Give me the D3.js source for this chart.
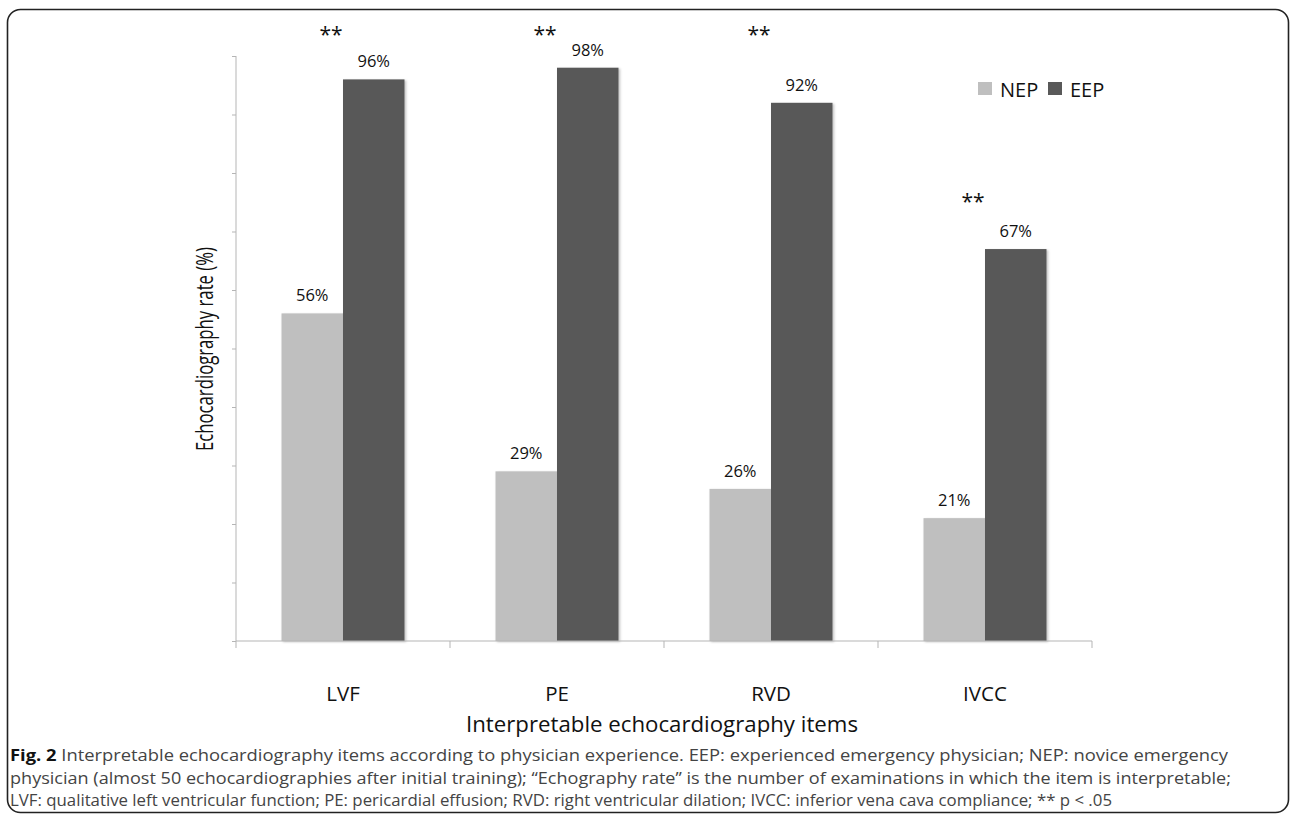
<!DOCTYPE html>
<html><head><meta charset="utf-8">
<script src="https://cdn.jsdelivr.net/npm/d3@7"></script>
<style>body{margin:0;background:#fff}svg{display:block}text{font-family:"Open Sans",sans-serif}</style>
</head><body>
<svg id="c" width="1292" height="815"></svg>
<script>
const categories = ["LVF", "PE", "RVD", "IVCC"];
const seriesNames = ["NEP", "EEP"];
const nepValues = [56, 29, 26, 21];
const eepValues = [96, 98, 92, 67];
const valueLabels = [["56%", "96%"], ["29%", "98%"], ["26%", "92%"], ["21%", "67%"]];
const starLevels = [104, 104, 104, 75.4];
const yTicks = [0, 10, 20, 30, 40, 50, 60, 70, 80, 90, 100];
const colors = ["#bfbfbf", "#595959"];
const captionLines = [
  ["Fig. 2", " Interpretable echocardiography items according to physician experience. EEP: experienced emergency physician; NEP: novice emergency"],
  ["", "physician (almost 50 echocardiographies after initial training); \u201cEchography rate\u201d is the number of examinations in which the item is interpretable;"],
  ["", "LVF: qualitative left ventricular function; PE: pericardial effusion; RVD: right ventricular dilation; IVCC: inferior vena cava compliance; ** p < .05"]
];

const svg = d3.select("#c");
const defs = svg.append("defs");
const f = defs.append("filter").attr("id","sh").attr("x","-10%").attr("y","-10%").attr("width","130%").attr("height","130%");
f.append("feDropShadow").attr("dx",1.5).attr("dy",1).attr("stdDeviation",1).attr("flood-color","#000").attr("flood-opacity",0.25);

svg.append("rect").attr("x",7.5).attr("y",9.5).attr("width",1281).attr("height",803)
  .attr("rx",13).attr("fill","none").attr("stroke","#222").attr("stroke-width",1.6);

const x0 = d3.scaleBand().domain(categories).range([236, 1092]).padding(0);
const x1 = d3.scaleBand().domain(seriesNames).range([0, x0.bandwidth()]).paddingInner(0).paddingOuter(0.74);
const y = d3.scaleLinear().domain([0, 100]).range([641, 56]);

// y axis
const ya = svg.append("g").attr("transform","translate(236,0)")
  .call(d3.axisLeft(y).tickValues(yTicks).tickSize(4).tickFormat(""));
ya.selectAll("path,line").attr("stroke","#b5b5b5");
ya.select(".domain").attr("d", `M0,${y(0)}V${y(100)}`);

// bars
const data = categories.map((c,i)=>({c, vals:[nepValues[i], eepValues[i]], labs: valueLabels[i], star: starLevels[i]}));
const g = svg.append("g");
data.forEach(d=>{
  d.vals.forEach((v,j)=>{
    g.append("rect").attr("x", x0(d.c)+x1(seriesNames[j])).attr("y", y(v))
      .attr("width", x1.bandwidth()).attr("height", y(0)-y(v)).attr("fill", colors[j]).attr("filter","url(#sh)");
    g.append("text").attr("x", x0(d.c)+x1(seriesNames[j])+x1.bandwidth()/2).attr("y", y(v)-12)
      .attr("text-anchor","middle").attr("font-size",16.5).attr("fill","#111").text(d.labs[j]);
  });
  g.append("text").attr("x", x0(d.c)+x0.bandwidth()/2-12).attr("y", y(d.star)+9)
    .attr("text-anchor","middle").attr("font-size",21).attr("font-family","DejaVu Sans").attr("fill","#111").text("**");
});

// x axis
const xa = svg.append("g").attr("transform",`translate(0,${y(0)})`)
  .call(d3.axisBottom(x0).tickSize(0).tickPadding(0).tickFormat(""));
xa.selectAll("path").attr("stroke","#b5b5b5");
xa.select(".domain").attr("d","M236,0H1092");
xa.selectAll(".tick").remove();
const bounds = categories.map(c=>x0(c)).concat([x0.range()[1]]);
xa.selectAll("line.b").data(bounds).enter().append("line").attr("x1",d=>d).attr("x2",d=>d)
  .attr("y1",0).attr("y2",7).attr("stroke","#b5b5b5");
svg.selectAll("text.cat").data(categories).enter().append("text")
  .attr("x", d=>x0(d)+x0.bandwidth()/2).attr("y", 701).attr("text-anchor","middle")
  .attr("font-size",20.5).attr("fill","#111").text(d=>d);

svg.append("text").attr("x",662).attr("y",732).attr("text-anchor","middle").attr("font-size",21.5)
  .attr("fill","#111").attr("textLength",392).attr("lengthAdjust","spacingAndGlyphs")
  .text("Interpretable echocardiography items");
svg.append("text").attr("transform","translate(213,349) rotate(-90)").attr("text-anchor","middle")
  .attr("font-size",23).attr("fill","#111").attr("textLength",204).attr("lengthAdjust","spacingAndGlyphs")
  .text("Echocardiography rate (%)");

// legend
const lg = svg.append("g");
seriesNames.forEach((s,i)=>{
  const lx = [978,1048][i];
  lg.append("rect").attr("x",lx).attr("y",82).attr("width",14).attr("height",13).attr("fill",colors[i]);
  lg.append("text").attr("x",lx+22).attr("y",97).attr("font-size",20).attr("fill","#111").text(s);
});

// caption
const capBase = [761, 783.5, 806];
const capEnd = [1228, 1231, 1112];
captionLines.forEach((ln,i)=>{
  const t = svg.append("text").attr("x",10).attr("y",capBase[i]).attr("font-size",16.4)
    .attr("textLength", capEnd[i]-10).attr("lengthAdjust","spacingAndGlyphs");
  if (ln[0]) t.append("tspan").attr("font-weight","bold").attr("fill","#111").text(ln[0]);
  t.append("tspan").attr("fill","#444").text(ln[1]);
});
</script>
</body></html>
